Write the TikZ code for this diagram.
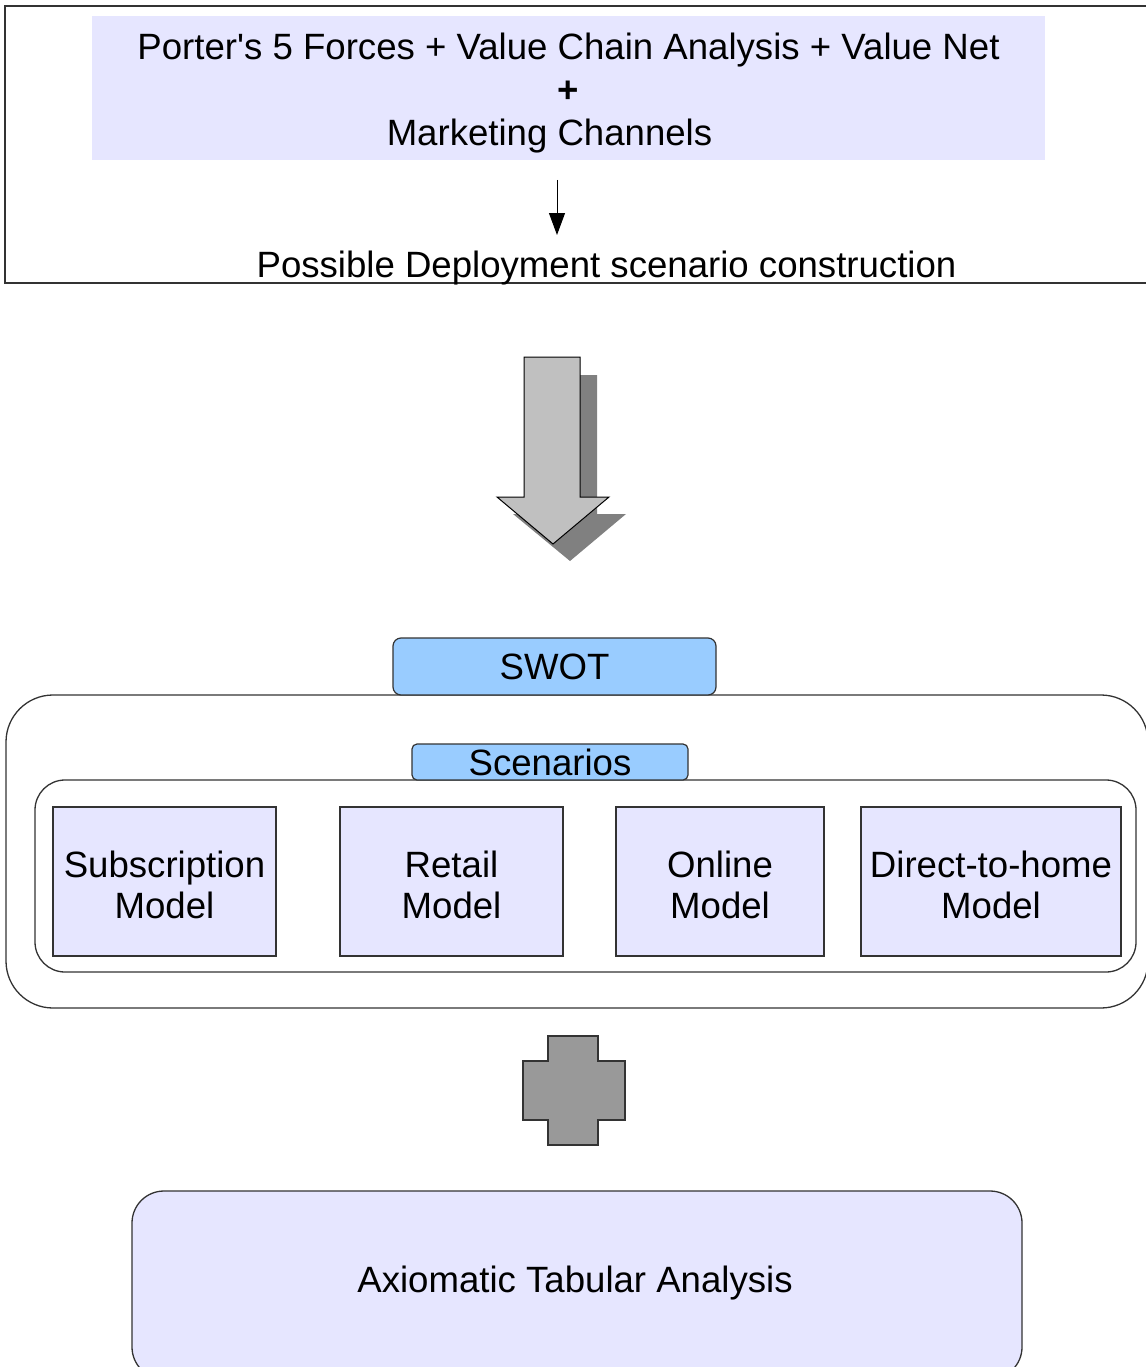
\documentclass[tikz,border=0pt]{standalone}
\usepackage{fontspec}
\setmainfont{Liberation Sans}
\usetikzlibrary{arrows.meta}
\definecolor{lavender}{HTML}{E6E6FF}
\definecolor{skyfill}{HTML}{99CCFF}
\definecolor{arrowgray}{HTML}{C0C0C0}
\definecolor{shadowgray}{HTML}{808080}
\definecolor{plusgray}{HTML}{999999}
\definecolor{edge}{HTML}{333333}
% two-line label, lowered slightly inside its box
\newcommand{\twolines}[2]{\raisebox{-15pt}[0pt][0pt]{\begin{tabular}{@{}c@{}}#1\\#2\end{tabular}}}
\tikzset{
  lbl/.style={font=\fontsize{36.6}{41}\selectfont, text=black, inner sep=0pt, align=center},
  modelbox/.style={draw=edge, line width=1.2pt, fill=lavender, lbl},
  tagbox/.style={draw=edge, line width=1.2pt, fill=skyfill, rounded corners=8pt, lbl},
  frame/.style={draw=edge, line width=1.3pt},
}
\begin{document}
\begin{tikzpicture}[x=1pt, y=-1pt]
\useasboundingbox (0,0) rectangle (1145,1367);
\fill[white] (0,0) rectangle (1145,1367);

% top panel: analysis frameworks feeding scenario construction
\draw[frame] (5,6) rectangle (1160,283);
\node[fill=lavender, minimum width=953pt, minimum height=144pt] (forces) at (568.5,88) {};
\node[lbl, font=\fontsize{36.6}{43}\selectfont] (forcestext) at (568.5,93)
  {Porter\textquotesingle s 5 Forces + Value Chain Analysis + Value Net\\ \textbf{+}\\ Marketing Channels\hspace*{38pt}};
\node[lbl, anchor=base] (possible) at (606.5,277) {Possible Deployment scenario construction};
\coordinate (fstart) at (557,180);
\draw[line width=1pt, -{Triangle[length=22pt, width=16pt]}] (fstart) -- (fstart |- 0,235);

% big block arrow with drop shadow
\fill[shadowgray] (540,375) -- (597,375) -- (597,514) -- (626,514) -- (570,561) -- (513,514) -- (540,514) -- cycle;
\draw[fill=arrowgray, line width=1pt] (524,357) -- (580,357) -- (580,497) -- (609,497) -- (553,544) -- (497,497) -- (524,497) -- cycle;

% scenario container
\draw[frame, rounded corners=47pt] (6,695) rectangle (1148,1008);
\draw[frame, rounded corners=30pt] (35,780) rectangle (1136,972);
\node[tagbox, minimum width=323pt, minimum height=57pt] (swot) at (554.5,666.5) {SWOT};
\node[tagbox, rounded corners=5pt, minimum width=276pt, minimum height=36pt] (scen) at (550,762) {Scenarios};

\node[modelbox, minimum width=223pt, minimum height=149pt] (subs) at (164.5,881.5) {\twolines{Subscription}{Model}};
\node[modelbox, minimum width=223pt, minimum height=149pt] (retail) at (451.5,881.5) {\twolines{Retail}{Model}};
\node[modelbox, minimum width=208pt, minimum height=149pt] (online) at (720,881.5) {\twolines{Online}{Model}};
\node[modelbox, minimum width=260pt, minimum height=149pt] (dth) at (991,881.5) {\twolines{Direct-to-home}{Model}};

% plus sign
\draw[fill=plusgray, draw=edge, line width=1.2pt]
  (548,1036) -- (598,1036) -- (598,1061) -- (625,1061) -- (625,1120) -- (598,1120)
  -- (598,1145) -- (548,1145) -- (548,1120) -- (523,1120) -- (523,1061) -- (548,1061) -- cycle;

% final analysis box
\node[draw=edge, line width=1.3pt, fill=lavender, rounded corners=32pt,
      minimum width=890pt, minimum height=188pt] (axio) at (577,1285) {};
\node[lbl] (axiotext) at (575,1283) {Axiomatic Tabular Analysis};
\end{tikzpicture}
\end{document}
